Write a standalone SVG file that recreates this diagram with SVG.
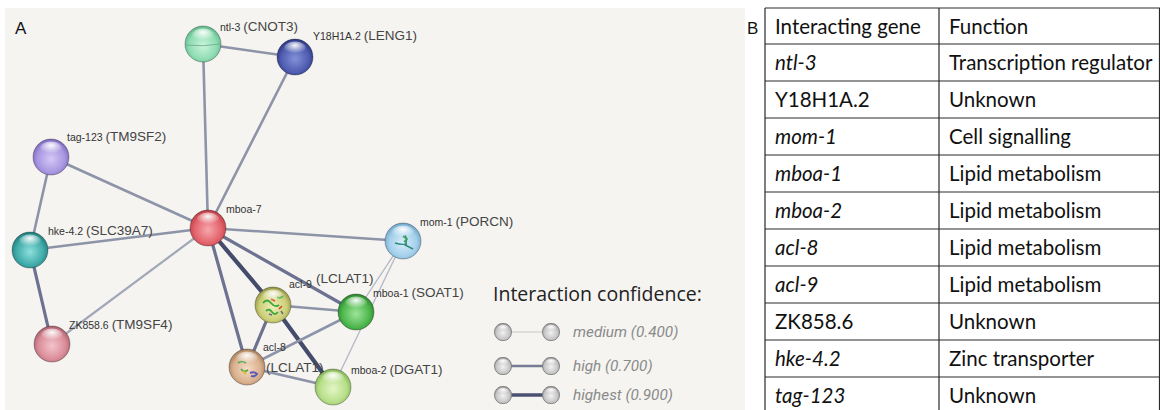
<svg xmlns="http://www.w3.org/2000/svg" width="1160" height="410" viewBox="0 0 1160 410">
  <style>
    .lbl { font-family: "Liberation Sans", Arial, sans-serif; font-size: 10.5px; fill: #333; }
    .lbl .p { font-size: 13.5px; fill: #444; }
    .panel { font-family: "Liberation Sans", Arial, sans-serif; font-size: 17px; fill: #111; }
    .edge { fill: none; stroke-linecap: round; }
    .e-med { stroke: #b4b8c6; stroke-width: 1.3; }
    .e-n { stroke: #8e94a8; stroke-width: 2.6; }
    .e-l { stroke: #a3a8b8; stroke-width: 2.2; }
    .e-h { stroke: #6c7290; stroke-width: 3.2; }
    .e-x { stroke: #454b6a; stroke-width: 4.2; }
    .legend-title { font-family: "Open Sans", "Liberation Sans", sans-serif; font-size: 19.5px; fill: #222; }
    .legend-txt { font-family: Roboto, "Liberation Sans", sans-serif; font-size: 15.3px; font-style: italic; fill: #8a8a8a; }
    .tbl { font-family: Lato, "Liberation Sans", sans-serif; font-size: 20.5px; fill: #111; }
    .tbl .i { font-style: italic; }
    .grid { stroke: #2a2a2a; stroke-width: 1.2; fill: none; }
    .rim { fill: none; stroke: rgba(0,0,0,0.28); stroke-width: 1; }
  </style>
  <defs>
    <radialGradient id="gloss" cx="50%" cy="30%" r="60%">
      <stop offset="0" stop-color="#fff" stop-opacity="0.95"/>
      <stop offset="1" stop-color="#fff" stop-opacity="0"/>
    </radialGradient>
    <radialGradient id="c-mint" cx="50%" cy="55%" r="55%"><stop offset="0" stop-color="#c9f5dc"/><stop offset="0.7" stop-color="#8fdcb2"/><stop offset="1" stop-color="#5fb88a"/></radialGradient>
    <radialGradient id="c-blue" cx="50%" cy="55%" r="55%"><stop offset="0" stop-color="#8390d8"/><stop offset="0.7" stop-color="#4f5cb0"/><stop offset="1" stop-color="#2c3580"/></radialGradient>
    <radialGradient id="c-lav" cx="50%" cy="55%" r="55%"><stop offset="0" stop-color="#d4c8f6"/><stop offset="0.7" stop-color="#a796e0"/><stop offset="1" stop-color="#7a66bc"/></radialGradient>
    <radialGradient id="c-red" cx="50%" cy="55%" r="55%"><stop offset="0" stop-color="#f7a8ac"/><stop offset="0.7" stop-color="#e2626a"/><stop offset="1" stop-color="#b83c46"/></radialGradient>
    <radialGradient id="c-teal" cx="50%" cy="55%" r="55%"><stop offset="0" stop-color="#8ee0dc"/><stop offset="0.7" stop-color="#3eaaa8"/><stop offset="1" stop-color="#1f7a7a"/></radialGradient>
    <radialGradient id="c-pink" cx="50%" cy="55%" r="55%"><stop offset="0" stop-color="#f4c4cc"/><stop offset="0.7" stop-color="#d98c98"/><stop offset="1" stop-color="#a85e6a"/></radialGradient>
    <radialGradient id="c-sky" cx="50%" cy="55%" r="55%"><stop offset="0" stop-color="#d8eefa"/><stop offset="0.7" stop-color="#a2cfea"/><stop offset="1" stop-color="#6ea4c8"/></radialGradient>
    <radialGradient id="c-olive" cx="50%" cy="55%" r="55%"><stop offset="0" stop-color="#eef0b8"/><stop offset="0.7" stop-color="#ccce76"/><stop offset="1" stop-color="#8e9040"/></radialGradient>
    <radialGradient id="c-green" cx="50%" cy="55%" r="55%"><stop offset="0" stop-color="#9ee49a"/><stop offset="0.7" stop-color="#4cb64c"/><stop offset="1" stop-color="#2a842c"/></radialGradient>
    <radialGradient id="c-tan" cx="50%" cy="55%" r="55%"><stop offset="0" stop-color="#f6dcc4"/><stop offset="0.7" stop-color="#d8b08e"/><stop offset="1" stop-color="#a27c5a"/></radialGradient>
    <radialGradient id="c-lime" cx="50%" cy="55%" r="55%"><stop offset="0" stop-color="#e4f6c6"/><stop offset="0.7" stop-color="#b6de88"/><stop offset="1" stop-color="#82b454"/></radialGradient>
    <radialGradient id="c-grey" cx="50%" cy="55%" r="60%"><stop offset="0" stop-color="#f2f2f2"/><stop offset="0.7" stop-color="#c2c2c2"/><stop offset="1" stop-color="#888"/></radialGradient>
    <g id="sheen">
      <ellipse cx="0" cy="-9" rx="11" ry="6.5" fill="url(#gloss)"/>
      <circle r="18" class="rim"/>
    </g>
    <g id="pill">
      <rect x="-8.5" y="-8.5" width="17" height="17" rx="7.5" ry="8.5" fill="url(#c-grey)" stroke="#7e7e7e" stroke-width="0.9"/>
      <ellipse cx="0" cy="-4" rx="5.5" ry="3" fill="url(#gloss)"/>
    </g>
  </defs>

  <!-- page and panel A backdrop -->
  <rect x="0" y="0" width="1160" height="410" fill="#ffffff"/>
  <rect x="5" y="8" width="740" height="402" fill="#f5f4f1"/>
  <text class="panel" x="15" y="34">A</text>
  <text class="panel" x="747" y="34">B</text>

  <!-- interaction edges -->
  <g id="connectors">
    <line class="edge e-n" x1="203" y1="44" x2="295" y2="57"/>
    <line class="edge e-n" x1="203" y1="44" x2="208" y2="228"/>
    <line class="edge e-n" x1="295" y1="57" x2="208" y2="228"/>
    <line class="edge e-n" x1="51" y1="157" x2="208" y2="228"/>
    <line class="edge e-n" x1="51" y1="157" x2="30" y2="250"/>
    <line class="edge e-n" x1="30" y1="250" x2="208" y2="228"/>
    <line class="edge e-h" x1="30" y1="250" x2="52" y2="344"/>
    <line class="edge e-l" x1="52" y1="344" x2="208" y2="228"/>
    <line class="edge e-n" x1="208" y1="228" x2="403" y2="241"/>
    <line class="edge e-x" x1="208" y1="228" x2="273" y2="305"/>
    <line class="edge e-h" x1="208" y1="228" x2="356" y2="312"/>
    <line class="edge e-h" x1="208" y1="228" x2="247" y2="367"/>
    <line class="edge e-n" x1="273" y1="305" x2="356" y2="312"/>
    <line class="edge e-h" x1="273" y1="305" x2="247" y2="367"/>
    <line class="edge e-x" x1="273" y1="305" x2="333" y2="387"/>
    <line class="edge e-n" x1="247" y1="367" x2="356" y2="312"/>
    <line class="edge e-n" x1="247" y1="367" x2="333" y2="387"/>
    <line class="edge e-med" x1="403" y1="241" x2="356" y2="312"/>
    <line class="edge e-med" x1="403" y1="241" x2="333" y2="387"/>
  </g>

  <!-- protein nodes -->
  <g id="node-ntl-3" transform="translate(203,44)">
    <circle r="18" fill="url(#c-mint)"/>
    <path d="M-17,1 Q0,3 17,0" stroke="#6aa88a" stroke-width="0.8" fill="none"/>
    <use href="#sheen"/>
    <text class="lbl" x="17" y="-13">ntl-3 <tspan class="p">(CNOT3)</tspan></text>
  </g>
  <g id="node-Y18H1A.2" transform="translate(295,57)">
    <circle r="18" fill="url(#c-blue)"/>
    <use href="#sheen"/>
    <text class="lbl" x="18" y="-17">Y18H1A.2 <tspan class="p">(LENG1)</tspan></text>
  </g>
  <g id="node-tag-123" transform="translate(51,157)">
    <circle r="18" fill="url(#c-lav)"/>
    <use href="#sheen"/>
    <text class="lbl" x="16" y="-16">tag-123 <tspan class="p">(TM9SF2)</tspan></text>
  </g>
  <g id="node-mboa-7" transform="translate(208,228)">
    <circle r="18" fill="url(#c-red)"/>
    <use href="#sheen"/>
    <text class="lbl" x="18" y="-15">mboa-7</text>
  </g>
  <g id="node-hke-4.2" transform="translate(30,250)">
    <circle r="18" fill="url(#c-teal)"/>
    <use href="#sheen"/>
    <text class="lbl" x="18" y="-15">hke-4.2 <tspan class="p">(SLC39A7)</tspan></text>
  </g>
  <g id="node-ZK858.6" transform="translate(52,344)">
    <circle r="18" fill="url(#c-pink)"/>
    <use href="#sheen"/>
    <text class="lbl" x="17" y="-15">ZK858.6 <tspan class="p">(TM9SF4)</tspan></text>
  </g>
  <g id="node-mom-1" transform="translate(403,241)">
    <circle r="18" fill="url(#c-sky)"/>
    <path d="M-8,2 Q-2,4 4,3 M2,-6 Q5,-1 2,4 Q6,6 10,8" stroke="#2a8a7a" stroke-width="1.4" fill="none"/>
    <path d="M0,-5 L4,-2 L1,1" stroke="#3aa050" stroke-width="1.6" fill="none"/>
    <use href="#sheen"/>
    <text class="lbl" x="17" y="-15">mom-1 <tspan class="p">(PORCN)</tspan></text>
  </g>
  <g id="node-acl-9" transform="translate(273,305)">
    <circle r="18" fill="url(#c-olive)"/>
    <path d="M-10,-2 q4,-5 8,0 t8,2 M-7,6 q3,-3 6,1 t6,0 M4,-8 q3,2 6,-1" stroke="#3aa83a" stroke-width="1.8" fill="none"/>
    <path d="M-2,-6 l4,2 M6,4 l3,-3" stroke="#d04a2a" stroke-width="1.6" fill="none"/>
    <path d="M8,6 l2,3 M-4,9 l3,1" stroke="#6a6a8a" stroke-width="1.6" fill="none"/>
    <use href="#sheen"/>
    <text class="lbl" x="16" y="-17">acl-9</text>
    <text class="lbl" x="43" y="-22"><tspan class="p">(LCLAT1)</tspan></text>
  </g>
  <g id="node-mboa-1" transform="translate(356,312)">
    <circle r="18" fill="url(#c-green)"/>
    <use href="#sheen"/>
    <text class="lbl" x="17" y="-15">mboa-1 <tspan class="p">(SOAT1)</tspan></text>
  </g>
  <g id="node-acl-8" transform="translate(247,367)">
    <circle r="18" fill="url(#c-tan)"/>
    <path d="M-9,-4 q4,-3 8,0 M-6,2 q3,4 7,1" stroke="#4aa84a" stroke-width="1.6" fill="none"/>
    <path d="M-4,4 l3,3" stroke="#d8c030" stroke-width="2.2" fill="none"/>
    <path d="M3,6 q4,-2 7,1 q-2,3 -6,2" stroke="#5a5ab8" stroke-width="2" fill="none"/>
    <use href="#sheen"/>
    <text class="lbl" x="16" y="-16">acl-8</text>
    <text class="lbl" x="19" y="5"><tspan class="p">(LCLAT1)</tspan></text>
  </g>
  <g id="node-mboa-2" transform="translate(333,387)">
    <circle r="18" fill="url(#c-lime)"/>
    <use href="#sheen"/>
    <text class="lbl" x="18" y="-13">mboa-2 <tspan class="p">(DGAT1)</tspan></text>
  </g>

  <!-- confidence legend -->
  <g id="legend">
    <text class="legend-title" x="493" y="301">Interaction confidence:</text>
    <line x1="503" y1="332" x2="551" y2="332" stroke="#c8c8c8" stroke-width="1"/>
    <use href="#pill" x="503" y="332"/><use href="#pill" x="551" y="332"/>
    <text class="legend-txt" x="573" y="337">medium (0.400)</text>
    <line x1="503" y1="366" x2="551" y2="366" stroke="#767c96" stroke-width="2.4"/>
    <use href="#pill" x="503" y="366"/><use href="#pill" x="551" y="366"/>
    <text class="legend-txt" x="573" y="371">high (0.700)</text>
    <line x1="503" y1="395" x2="551" y2="395" stroke="#4a5070" stroke-width="3.4"/>
    <use href="#pill" x="503" y="395"/><use href="#pill" x="551" y="395"/>
    <text class="legend-txt" x="573" y="400">highest (0.900)</text>
  </g>

  <!-- gene function table -->
  <g id="table">
    <path class="grid" d="M765,8 H1160 M765,8 V410 M939,8 V410 M1159.5,8 V410
      M765,44 H1160 M765,81 H1160 M765,118 H1160 M765,155 H1160 M765,192 H1160
      M765,229 H1160 M765,266 H1160 M765,303 H1160 M765,340 H1160 M765,377 H1160"/>
    <g class="tbl">
      <text x="775" y="34">Interacting gene</text><text x="949" y="34">Function</text>
      <text class="i" x="775" y="70">ntl-3</text><text x="949" y="70">Transcription regulator</text>
      <text x="775" y="107">Y18H1A.2</text><text x="949" y="107">Unknown</text>
      <text class="i" x="775" y="144">mom-1</text><text x="949" y="144">Cell signalling</text>
      <text class="i" x="775" y="181">mboa-1</text><text x="949" y="181">Lipid metabolism</text>
      <text class="i" x="775" y="218">mboa-2</text><text x="949" y="218">Lipid metabolism</text>
      <text class="i" x="775" y="255">acl-8</text><text x="949" y="255">Lipid metabolism</text>
      <text class="i" x="775" y="292">acl-9</text><text x="949" y="292">Lipid metabolism</text>
      <text x="775" y="329">ZK858.6</text><text x="949" y="329">Unknown</text>
      <text class="i" x="775" y="366">hke-4.2</text><text x="949" y="366">Zinc transporter</text>
      <text class="i" x="775" y="403">tag-123</text><text x="949" y="403">Unknown</text>
    </g>
  </g>
</svg>
